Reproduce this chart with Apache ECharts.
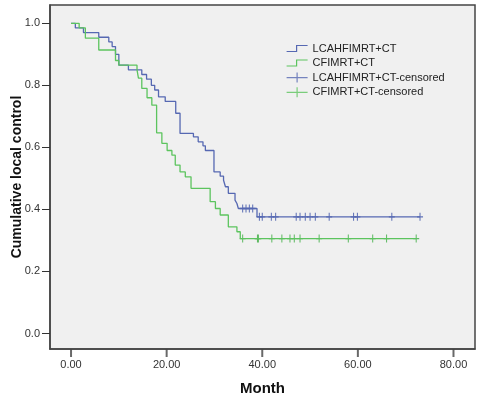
<!DOCTYPE html>
<html>
<head>
<meta charset="utf-8">
<script src="https://cdn.jsdelivr.net/npm/echarts@6/dist/echarts.min.js"></script>
<style>
    html, body { margin: 0; padding: 0; background: #fff; }
    #chart { width: 481px; height: 398px; }
</style>
</head>
<body>
<div id="chart"></div>
<script>
// Kaplan-Meier steps (month, cumulative local control)
const blueTimes = [0, 0.9, 2.6, 5.8, 7.9, 8.6, 9.3, 10.0, 12.0, 14.8, 15.8, 16.8, 17.5, 18.3, 19.7, 21.9, 22.8, 25.6, 26.6, 27.6, 28.1, 29.9, 31.2, 31.9, 32.3, 32.9, 34.3, 34.7, 35.0, 38.9, 73.0];
const blueSurv = [1.0, 0.985, 0.970, 0.955, 0.940, 0.925, 0.900, 0.865, 0.850, 0.835, 0.820, 0.800, 0.785, 0.763, 0.748, 0.710, 0.645, 0.634, 0.618, 0.605, 0.590, 0.521, 0.507, 0.494, 0.473, 0.452, 0.430, 0.419, 0.403, 0.376, 0.376];

const greenTimes = [0, 1.7, 3.0, 5.8, 9.3, 10.0, 13.8, 14.1, 14.8, 15.9, 16.9, 17.9, 19.0, 20.1, 21.1, 21.8, 22.8, 23.9, 25.1, 29.1, 30.2, 31.2, 32.9, 34.7, 35.4, 72.2];
const greenSurv = [1.0, 0.985, 0.952, 0.914, 0.880, 0.865, 0.850, 0.823, 0.790, 0.760, 0.736, 0.647, 0.613, 0.590, 0.575, 0.543, 0.521, 0.505, 0.468, 0.425, 0.403, 0.382, 0.344, 0.328, 0.306, 0.306];

// censored observations
const blueCensTimes = [35.9, 36.6, 37.3, 38.0, 39.4, 40.0, 41.9, 42.8, 47.1, 47.9, 49.0, 50.0, 51.1, 54.0, 59.1, 59.9, 67.1, 73.0];
const blueCensSurv = [0.403, 0.403, 0.403, 0.403, 0.376, 0.376, 0.376, 0.376, 0.376, 0.376, 0.376, 0.376, 0.376, 0.376, 0.376, 0.376, 0.376, 0.376];
const greenCensTimes = [35.9, 39.0, 39.2, 42.0, 44.1, 45.8, 46.7, 47.9, 51.9, 58.0, 63.1, 66.0, 72.2];
const greenCensSurv = [0.306, 0.306, 0.306, 0.306, 0.306, 0.306, 0.306, 0.306, 0.306, 0.306, 0.306, 0.306, 0.306];

const xTicks = [0, 20, 40, 60, 80];
const yTicks = [0, 0.2, 0.4, 0.6, 0.8, 1.0];

const names = ['LCAHFIMRT+CT', 'CFIMRT+CT', 'LCAHFIMRT+CT-censored', 'CFIMRT+CT-censored'];
const blue = '#5668b2';
const green = '#5cc45e';
const blueDark = '#3c52a8';
const greenDark = '#3fae43';

const xMin = -4.4;
const yMin = -0.05;

const zip = (a, b) => a.map((v, i) => [v, b[i]]);
const stepIcon = 'path://M0,6 L10,6 L10,0 L21,0';
const crossIcon = 'path://M0,5 L21,5 M10.5,0 L10.5,10';
const tick = 'path://M0,4 L6,4 M3,0 L3,8';
const hollow = 'rgba(0,0,0,0)';

const chart = echarts.init(document.getElementById('chart'));
chart.setOption({
    animation: false,
    textStyle: { fontFamily: 'Liberation Sans, Arial, sans-serif' },
    grid: {
        left: 50, right: 6, top: 5, bottom: 49,
        outerBoundsMode: 'none',
        containLabel: false,
        show: true,
        backgroundColor: '#f0f0f0',
        borderColor: '#444',
        borderWidth: 1.5
    },
    legend: {
        orient: 'vertical',
        left: 286,
        top: 43,
        padding: 0,
        itemWidth: 21,
        itemHeight: 10,
        itemGap: 3.5,
        textStyle: { fontSize: 11, color: '#222', fontFamily: 'Liberation Sans, Arial, sans-serif' },
        data: [
            { name: names[0], icon: stepIcon, itemStyle: { color: hollow, borderColor: blue, borderWidth: 1.2 } },
            { name: names[1], icon: stepIcon, itemStyle: { color: hollow, borderColor: green, borderWidth: 1.2 } },
            { name: names[2], icon: crossIcon, itemStyle: { color: hollow, borderColor: blue, borderWidth: 1.2 } },
            { name: names[3], icon: crossIcon, itemStyle: { color: hollow, borderColor: green, borderWidth: 1.2 } }
        ]
    },
    xAxis: {
        type: 'value',
        position: 'bottom',
        min: xMin,
        max: 84.5,
        name: 'Month',
        nameLocation: 'middle',
        nameGap: 32,
        nameMoveOverlap: false,
        nameTextStyle: { fontSize: 15, fontWeight: 'bold', color: '#111' },
        axisLine: { show: true, onZero: false, lineStyle: { color: '#444', width: 1.5 } },
        splitLine: { show: false },
        // ticks for this axis are drawn by the 'xticks' series below
        axisTick: { show: false },
        axisLabel: {
            margin: 10, fontSize: 11, color: '#333',
            customValues: xTicks,
            formatter: v => v.toFixed(2)
        }
    },
    yAxis: {
        type: 'value',
        position: 'left',
        min: yMin,
        max: 1.059,
        name: 'Cumulative local control',
        nameLocation: 'middle',
        nameGap: 26,
        nameMoveOverlap: false,
        nameTextStyle: { fontSize: 14, fontWeight: 'bold', color: '#111' },
        axisLine: { show: true, onZero: false, lineStyle: { color: '#444', width: 1.5 } },
        splitLine: { show: false },
        axisTick: { show: true, inside: false, length: 8, customValues: yTicks, lineStyle: { color: '#333', width: 1 } },
        axisLabel: {
            margin: 10, fontSize: 11, color: '#333',
            customValues: yTicks,
            formatter: v => v.toFixed(1)
        }
    },
    series: [
        {
            name: names[0], type: 'line', step: 'end', symbol: 'none',
            data: zip(blueTimes, blueSurv),
            itemStyle: { color: blue },
            lineStyle: { color: blue, width: 1.3 }
        },
        {
            name: names[1], type: 'line', step: 'end', symbol: 'none',
            data: zip(greenTimes, greenSurv),
            itemStyle: { color: green },
            lineStyle: { color: green, width: 1.3 }
        },
        {
            name: names[2], type: 'scatter', symbol: tick, symbolSize: [6, 8],
            data: zip(blueCensTimes, blueCensSurv),
            itemStyle: { color: hollow, borderColor: blueDark, borderWidth: 1.2 }
        },
        {
            name: names[3], type: 'scatter', symbol: tick, symbolSize: [6, 8],
            data: zip(greenCensTimes, greenCensSurv),
            itemStyle: { color: hollow, borderColor: greenDark, borderWidth: 1.2 }
        },
        {
            name: 'xticks', type: 'scatter', silent: true, clip: false,
            symbol: 'rect', symbolSize: [2, 8], symbolOffset: [0, 4],
            data: xTicks.map(v => [v, yMin]),
            itemStyle: { color: '#444' },
            z: 10
        }
    ]
});
</script>
</body>
</html>
